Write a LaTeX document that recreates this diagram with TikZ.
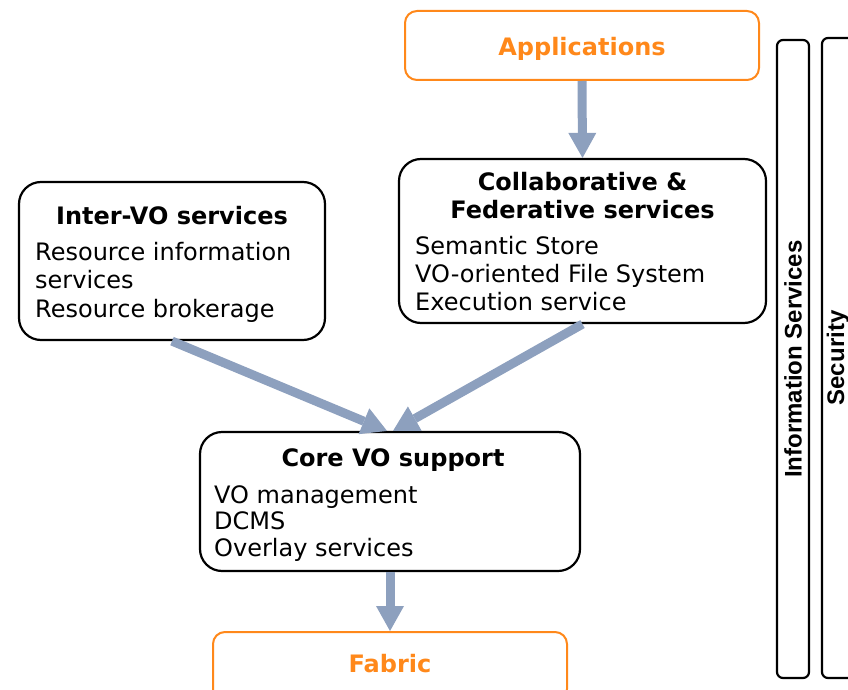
\documentclass[tikz,border=0pt]{standalone}
\usepackage{fontspec}
\setmainfont{DejaVu Sans}
\newfontfamily\barfont{Liberation Sans}
\usepackage{xcolor}
\usetikzlibrary{arrows.meta,calc}
\definecolor{flowblue}{RGB}{141,160,190}
\definecolor{layerorange}{RGB}{255,136,26}
\tikzstyle{layer}=[draw=layerorange, line width=2pt, rounded corners=12pt, inner sep=0pt]
\tikzstyle{service}=[draw=black, line width=2.2pt, rounded corners=22pt, inner sep=0pt]
\tikzstyle{pillar}=[draw=black, line width=2.2pt, rounded corners=6pt, inner sep=0pt]
\tikzstyle{flow}=[draw=flowblue, line width=9pt, -{Triangle[width=28pt,length=25pt,line width=0pt]}]
\tikzstyle{head}=[anchor=base, font=\bfseries\bigtxt, align=center]
\tikzstyle{body}=[anchor=north west, inner sep=0pt, font=\bigtxt, align=left]
\newcommand{\bigtxt}{\fontsize{24}{28}\selectfont}

\begin{document}
\begin{tikzpicture}[x=1pt, y=-1pt]
	\useasboundingbox (0,0) rectangle (848,690);
%
	\node[layer, minimum width=354pt, minimum height=69pt] (apps) at (582,45.5) {};
	\node[service, minimum width=367pt, minimum height=164pt] (collab) at (582.5,241) {};
	\node[service, minimum width=306pt, minimum height=158pt] (inter) at (172,261) {};
	\node[service, minimum width=380pt, minimum height=139pt] (core) at (390,501.5) {};
	\node[layer, minimum width=354pt, minimum height=69pt] (fabric) at (390,666.5) {};
	\node[pillar, minimum width=32pt, minimum height=638pt] (info) at (793,359) {};
	\node[pillar, minimum width=32pt, minimum height=640pt] (security) at (838,358) {};
%
	\node[head, text=layerorange] (appstitle) at (582,56) {Applications};
	\node[head, text=layerorange] (fabrictitle) at (390,672) {Fabric};
	\node[head] (intertitle) at (172,224) {Inter-VO services};
	\node[head] (collabtitle) at (582.5,218) {Collaborative \&\\Federative services};
	\node[head] (coretitle) at (393,466) {Core VO support};
%
	\node[body, font=\fontsize{24}{28.5}\selectfont] (interbody) at (35,242) {Resource information\\services\\Resource brokerage};
	\node[body] (collabbody) at (415,236) {Semantic Store\\VO-oriented File System\\Execution service};
	\node[body, font=\fontsize{24}{26.5}\selectfont] (corebody) at (214,485) {VO management\\DCMS\\Overlay services};
%
	\node[rotate=90, font=\barfont\bfseries\bigtxt] (infotitle) at (info) {Information Services};
	\node[rotate=90, font=\barfont\bfseries\bigtxt] (securitytitle) at (security) {Security};
%
	\draw[flow] (apps.south) -- (collab.north);
	\draw[flow] (inter.south) -- ($(core.north)+(-3,0)$);
	\draw[flow] (collab.south) -- ($(core.north)+(3,0)$);
	\draw[flow] (core.south) -- (fabric.north);
\end{tikzpicture}
\end{document}
